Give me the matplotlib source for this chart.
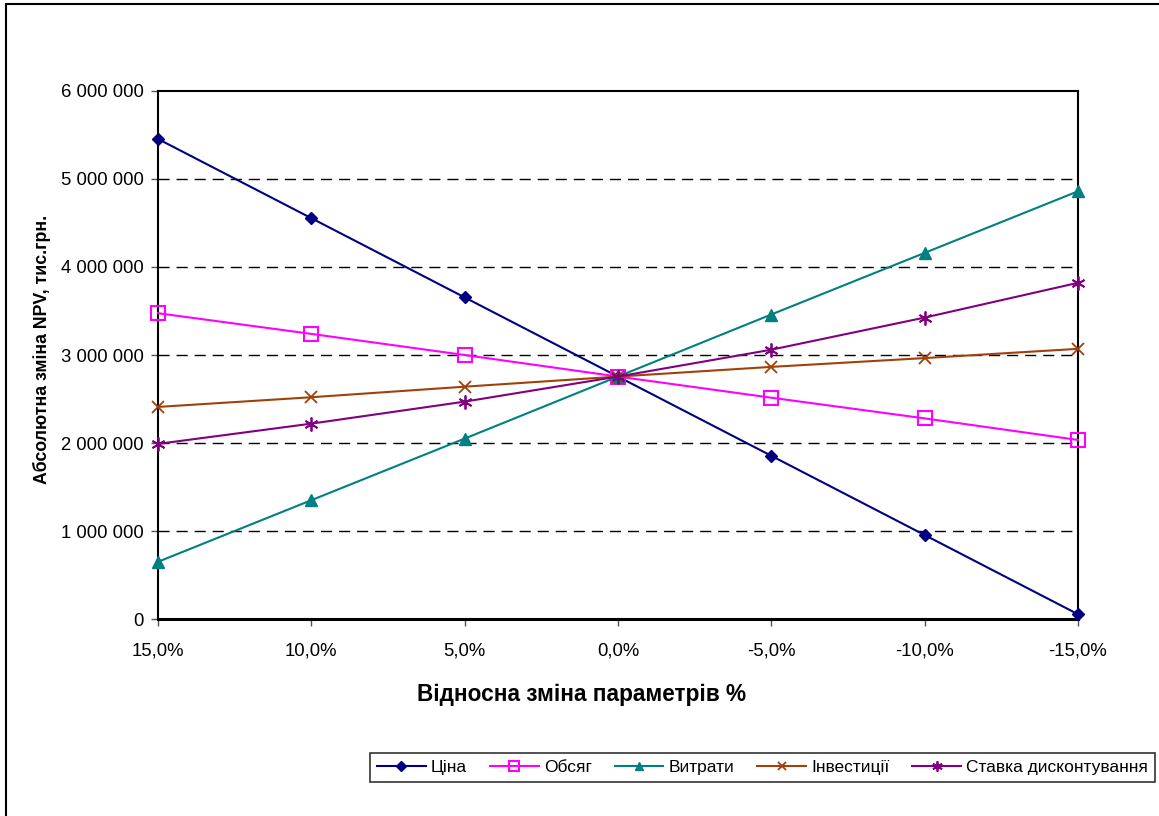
import matplotlib
matplotlib.use('Agg')
from matplotlib import pyplot as plt
from matplotlib.patches import Rectangle
from matplotlib.ticker import FuncFormatter

plt.rcParams['font.family'] = ['Liberation Sans', 'DejaVu Sans']

changes = ['15,0%', '10,0%', '5,0%', '0,0%', '-5,0%', '-10,0%', '-15,0%']

price = [5455000, 4555000, 3655000, 2755000, 1855000, 955000, 55000]
volume = [3475000, 3240000, 3000000, 2755000, 2515000, 2280000, 2035000]
costs = [650000, 1350000, 2050000, 2755000, 3460000, 4160000, 4860000]
invest = [2410000, 2520000, 2640000, 2755000, 2865000, 2965000, 3070000]
rate = [1990000, 2220000, 2470000, 2755000, 3060000, 3425000, 3820000]

series = [
    ('Ціна', price, '#000080', dict(marker='D', markersize=6.5, mfc='#000080')),
    ('Обсяг', volume, '#FF00FF', dict(marker='s', markersize=10, mfc='none', mew=1.5)),
    ('Витрати', costs, '#008080', dict(marker='^', markersize=8, mfc='#008080')),
    ('Інвестиції', invest, '#A0400A', dict(marker='x', markersize=8, mew=1.3)),
    ('Ставка дисконтування', rate, '#800080', dict(marker=(6, 2, 0), markersize=10, mew=1.3)),
]


def fmt_num(v, pos):
    return '{:,.0f}'.format(v).replace(',', ' ')


fig = plt.figure(figsize=(11.59, 8.16), dpi=100)
ax = fig.add_axes([0.1363, 0.2414, 0.7937, 0.6471])

x = list(range(len(changes)))
for name, vals, color, style in series:
    ax.plot(x, vals, color=color, lw=1.5, label=name, clip_on=False, zorder=3,
            mec=color, **style)

ax.set_xlim(0, len(changes) - 1)
ax.set_ylim(0, 6000000)
ax.set_yticks(range(0, 6000001, 1000000))
ax.yaxis.set_major_formatter(FuncFormatter(fmt_num))
ax.set_xticks(x)
ax.set_xticklabels(changes)
ax.tick_params(axis='both', labelsize=13.3, length=5, width=1, color='#555555', pad=5)
ax.tick_params(axis='x', pad=12)

for y in range(1000000, 6000000, 1000000):
    ax.axhline(y, color='black', lw=1, ls=(0, (8, 5)), zorder=1)

for side in ['left', 'top', 'right']:
    ax.spines[side].set_linewidth(1.5)
ax.spines['bottom'].set_linewidth(2.2)

ax.set_ylabel('Абсолютна зміна NPV, тис.грн.', fontsize=12.8, fontweight='bold')
ax.yaxis.set_label_coords(-0.116, 0.51)
ax.set_xlabel('Відносна зміна параметрів %', fontsize=16.3, fontweight='bold')
ax.xaxis.set_label_coords(0.461, -0.122)

leg = fig.legend(loc='lower left', bbox_to_anchor=(370 / 1159, 1 - 782 / 816, 785 / 1159, 54 / 816),
                 mode='expand', ncol=5, fontsize=12.5, frameon=True, fancybox=False,
                 handlelength=2.8, handletextpad=0.3, columnspacing=1.2, borderaxespad=0,
                 markerscale=0.75)
leg.get_frame().set_edgecolor('black')
leg.get_frame().set_linewidth(1.2)

# outer chart border
fig.patches.append(Rectangle((6 / 1159, -0.1), 1.2, 1 - 4 / 816 + 0.1, transform=fig.transFigure,
                             fill=False, edgecolor='black', lw=1.5))

fig.savefig('out.png', dpi=100)
